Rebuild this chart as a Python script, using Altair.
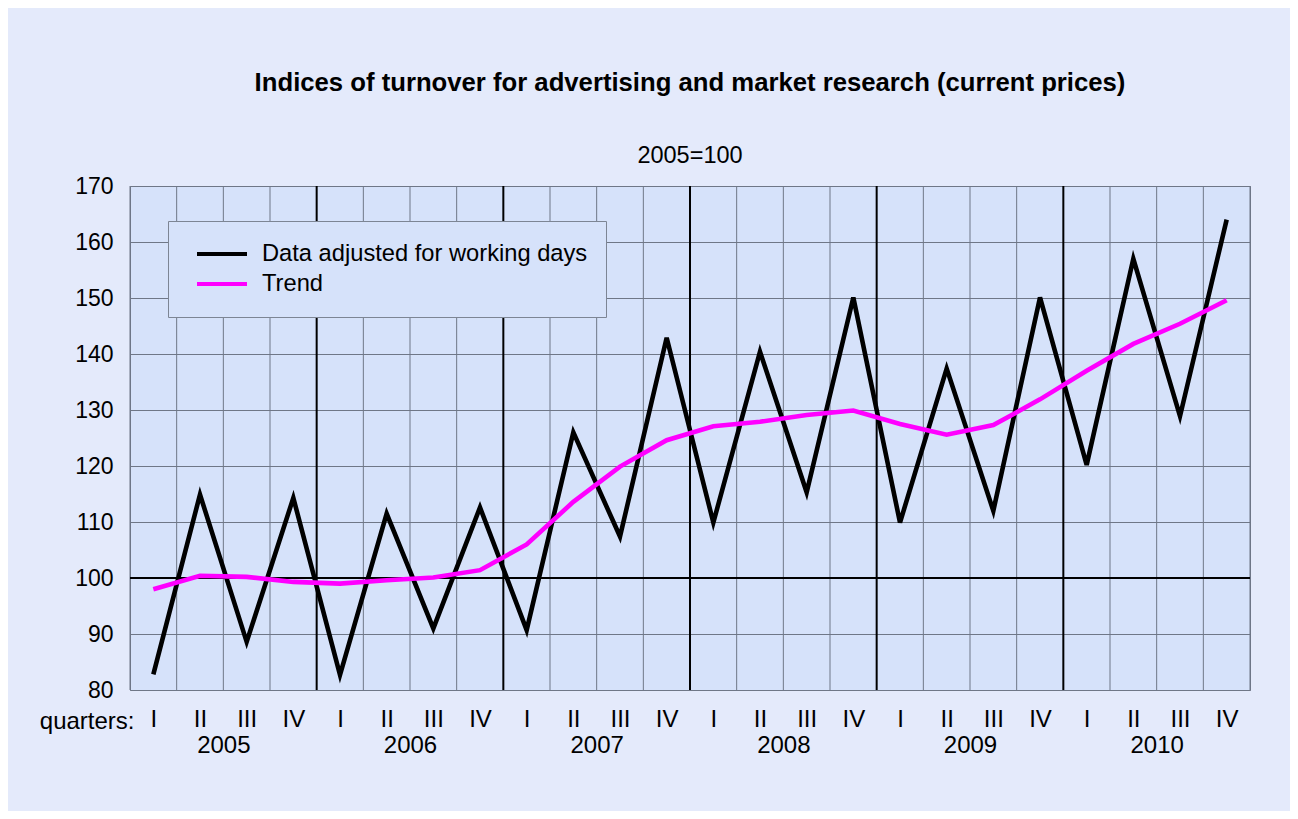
import altair as alt
import pandas as pd

# ---- data ----
years = ["2005", "2006", "2007", "2008", "2009", "2010"]
quarters = ["I", "II", "III", "IV"]
series_names = ["Data adjusted for working days", "Trend"]
adjusted = [82.8, 114.9, 88.6, 114.3, 82.7, 111.5, 91.0, 112.6,
            90.7, 126.0, 107.4, 142.9, 109.9, 140.4, 115.3, 150.1,
            109.9, 137.4, 112.0, 150.1, 120.2, 157.0, 128.9, 164.0]
trend = [98.0, 100.4, 100.2, 99.3, 99.0, 99.6, 100.1, 101.4,
         106.0, 113.6, 119.9, 124.6, 127.1, 127.9, 129.1, 129.9,
         127.5, 125.6, 127.3, 131.9, 137.0, 141.8, 145.4, 149.6]
y_ticks = [80, 90, 100, 110, 120, 130, 140, 150, 160, 170]
baseline = [100]

FONT = "Liberation Sans"
BG = "#e4eafb"
PLOT_BG = "#d6e2fa"
GRID = "#6f7787"
AX_FS = 24

n = len(adjusted)
df = pd.DataFrame({
    "idx": list(range(n)) * 2,
    "value": adjusted + trend,
    "series": [series_names[0]] * n + [series_names[1]] * n,
})
bounds = pd.DataFrame({"b": [i - 0.5 for i in range(n + 1)]})
bounds["major"] = [(i % 4 == 0) and (0 < i < n) for i in range(n + 1)]
minor_b = bounds[~bounds["major"]]
major_b = bounds[bounds["major"]]
year_pos = [4 * k + 1.5 for k in range(len(years))]

xscale = alt.Scale(domain=[-0.5, n - 0.5], nice=False, zero=False)
yscale = alt.Scale(domain=[80, 170], nice=False, zero=False)

year_expr = "[" + ",".join("'" + y + "'" for y in years) + "][floor(datum.value / 4)]"
q_expr = "[" + ",".join("'" + q + "'" for q in quarters) + "][datum.value % 4]"

y_axis = alt.Axis(values=y_ticks, ticks=False, domain=False, grid=True,
                  gridColor=GRID, gridWidth=1, gridOpacity=1,
                  labelPadding=17, labelFontSize=23, labelFont=FONT,
                  labelColor="black", title=None)

minor = alt.Chart(minor_b).mark_rule(color=GRID, strokeWidth=1).encode(
    x=alt.X("b:Q", scale=xscale,
            axis=alt.Axis(values=year_pos, labelExpr=year_expr, orient="bottom",
                          ticks=False, domain=False, grid=False, labelPadding=43,
                          labelFontSize=AX_FS, labelFont=FONT, labelColor="black",
                          title=None)),
)

major = alt.Chart(major_b).mark_rule(color="black", strokeWidth=2).encode(
    x=alt.X("b:Q", scale=xscale, axis=None),
)

hundred = alt.Chart(pd.DataFrame({"v": baseline})).mark_rule(color="black", strokeWidth=2).encode(
    y=alt.Y("v:Q", scale=yscale, axis=y_axis),
)

lines = alt.Chart(df).mark_line(strokeWidth=4.6, strokeJoin="miter").encode(
    x=alt.X("idx:Q", scale=xscale,
            axis=alt.Axis(values=list(range(n)), labelExpr=q_expr, orient="bottom",
                          ticks=False, domain=False, grid=False, labelPadding=17,
                          labelFontSize=AX_FS, labelFont=FONT, labelColor="black",
                          title="quarters:", titleFont=FONT, titleFontSize=AX_FS,
                          titleFontWeight="normal", titleColor="black",
                          titleAlign="right", titleBaseline="alphabetic",
                          titleX=4, titleY=38, titleAngle=0)),
    y=alt.Y("value:Q", scale=yscale, axis=y_axis),
    color=alt.Color("series:N",
                    scale=alt.Scale(domain=series_names, range=["black", "#ff00ff"]),
                    legend=alt.Legend(orient="none", legendX=38, legendY=35, title=None,
                                      fillColor=PLOT_BG, strokeColor="#7d8594",
                                      padding=18, symbolType="stroke", symbolSize=2500,
                                      symbolStrokeWidth=4, labelFontSize=23.7,
                                      labelFont=FONT, labelColor="black",
                                      labelOffset=13, rowPadding=0, symbolOffset=9,
                                      clipHeight=30, labelLimit=0)),
    detail="series:N",
)

chart = alt.layer(minor, major, hundred, lines).resolve_axis(x="independent").properties(
    width=1120,
    height=504,
    autosize=alt.AutoSizeParams(type="none"),
    padding={"left": 122, "top": 178, "right": 40, "bottom": 121},
    title=alt.TitleParams(
        text="Indices of turnover for advertising and market research (current prices)",
        subtitle="2005=100",
        font=FONT, fontSize=25.7, fontWeight="bold", color="black",
        subtitleFont=FONT, subtitleFontSize=23.5, subtitleColor="black",
        anchor="middle", offset=7, subtitlePadding=47,
    ),
).configure(background=BG).configure_view(fill=PLOT_BG, stroke=GRID, strokeWidth=1)

chart.save("out.html", embed_options={"renderer": "svg", "actions": False})
